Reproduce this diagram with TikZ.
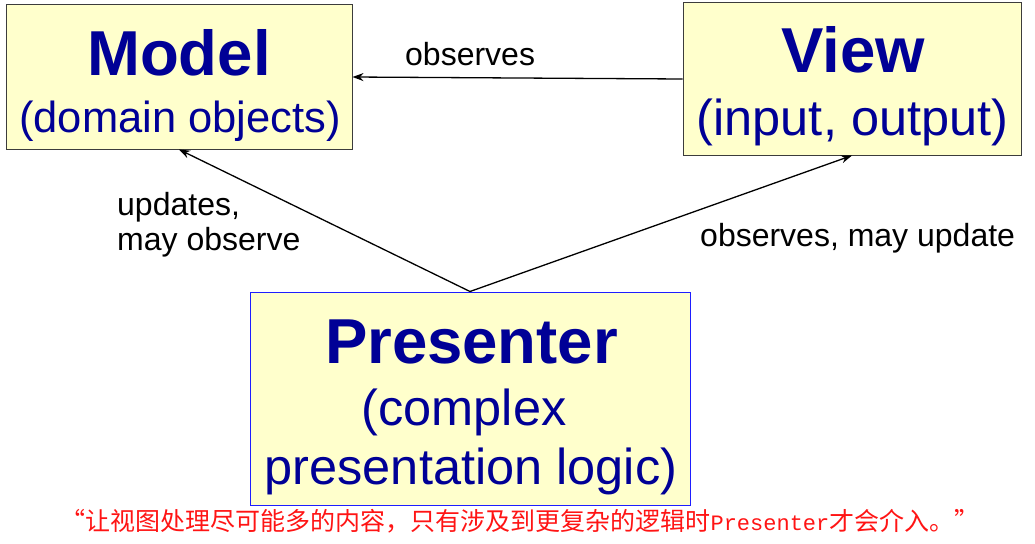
\documentclass[tikz,border=0pt]{standalone}
\usepackage{fontspec}
\setmainfont{Liberation Sans}
\newfontfamily\cjkfont{Noto Sans CJK SC}
\newfontfamily\monofnt{Liberation Mono}
\usetikzlibrary{arrows.meta}
\definecolor{boxfill}{RGB}{255,255,204}
\definecolor{txtblue}{RGB}{0,0,150}
\definecolor{grayedge}{RGB}{60,60,60}
\definecolor{blueedge}{RGB}{30,30,255}
\definecolor{redtxt}{RGB}{255,20,20}
\tikzset{
  box/.style={draw=grayedge, line width=1pt, fill=boxfill, rectangle, inner sep=0pt},
  pbox/.style={box, draw=blueedge},
  title/.style={anchor=base, inner sep=0pt, text=txtblue, font=\fontsize{63.5}{63.5}\selectfont\bfseries},
  sub/.style={anchor=base, inner sep=0pt, text=txtblue, font=\fontsize{#1}{#1}\selectfont},
  lbl/.style={anchor=base west, inner sep=0pt, font=\fontsize{32}{32}\selectfont},
  arr/.style={line width=1.3pt, -{Stealth[length=11pt,width=8pt]}}
}
\begin{document}
\begin{tikzpicture}[x=1pt,y=-1pt]
\useasboundingbox (0,0) rectangle (1035,543);
% boxes
\node[box, minimum width=346pt, minimum height=144pt] (model) at (179,77) {};
\node[box, minimum width=338pt, minimum height=152pt] (view) at (852,79) {};
\node[pbox, minimum width=440pt, minimum height=213pt] (pres) at (470,398.5) {};
% box texts
\node[title] (modelt) at (179,75) {Model};
\node[sub=43.5] (models) at (180,132) {(domain objects)};
\node[title] (viewt) at (853,73) {View};
\node[sub=50.5] (views) at (852.5,135) {(input, output)};
\node[title] (prest) at (471.5,363) {Presenter};
\node[sub=50.5] (press1) at (464,425) {(complex};
\node[sub=50.5] (press2) at (471,484) {presentation logic)};
% connectors
\draw[arr] (view.west) -- (model.east);
\draw[arr] (pres.north) -- (model.south);
\draw[arr] (pres.north) -- (view.south);
% labels
\node[lbl] (l1) at (405,66) {observes};
\node[lbl] (l2) at (117,215) {updates,};
\node[lbl] (l3) at (117,250) {may observe};
\node[lbl] (l4) at (700,246) {observes, may update};
% note
\node[anchor=base, inner sep=0pt, text=redtxt, font=\cjkfont\fontsize{25}{25}\selectfont] (note) at (520,530)
  {“让视图处理尽可能多的内容，只有涉及到更复杂的逻辑时{\monofnt\fontsize{22}{22}\selectfont Presenter}才会介入。”};
\end{tikzpicture}
\end{document}
